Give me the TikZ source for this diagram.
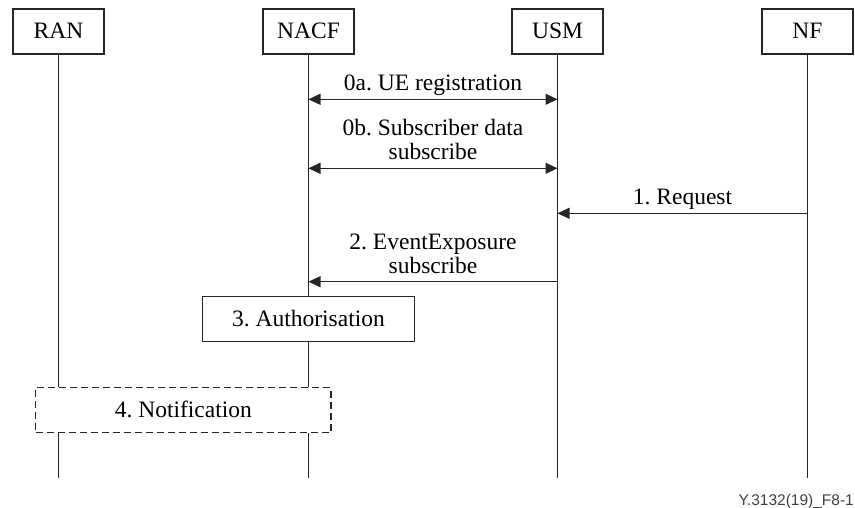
\documentclass[tikz,border=0pt]{standalone}
\usepackage{fontspec}
\setmainfont{Liberation Serif}
\newfontfamily\labelsans{Liberation Sans}
\usetikzlibrary{arrows.meta}
\frenchspacing

\tikzset{
  ink/.style={draw=black!85, line width=1.2pt},
  entity/.style={ink, rectangle, minimum width=91pt, minimum height=45pt,
    inner sep=0pt, text height=15pt, text depth=0pt,
    font=\fontsize{23.5}{24}\selectfont},
  stepbox/.style={ink, rectangle, minimum height=45pt,
    inner sep=0pt, text height=15pt, text depth=0pt,
    font=\fontsize{23.5}{24}\selectfont},
  optbox/.style={stepbox, dash pattern=on 7pt off 4pt},
  lifeline/.style={ink},
  msg/.style={ink, -{Triangle[length=12pt,width=11pt]}},
  bimsg/.style={ink, {Triangle[length=12pt,width=11pt]}-{Triangle[length=12pt,width=11pt]}},
  lbl/.style={above=8pt, inner sep=0pt, text depth=0pt, align=center,
    font=\fontsize{23.5}{24}\selectfont},
}

\begin{document}
\begin{tikzpicture}[x=1pt, y=-1pt]
  \useasboundingbox (0,0) rectangle (855,508);

  % participants
  \node[entity] (ran)  at (58.5,31.5)  {RAN};
  \node[entity] (nacf) at (308.5,31.5) {NACF};
  \node[entity] (usm)  at (557.5,31.5) {USM};
  \node[entity] (nf)   at (807.5,31.5) {NF};

  % local steps
  \node[stepbox, minimum width=212.6pt] (auth)  at (308.5,319.2)  {3. Authorisation};
  \node[optbox,  minimum width=295.3pt] (notif) at (183.35,410)   {4. Notification};

  % message levels and lifeline ends
  \coordinate (y0a)  at (0,99.3);
  \coordinate (y0b)  at (0,168.3);
  \coordinate (y1)   at (0,213.3);
  \coordinate (y2)   at (0,281.7);
  \coordinate (yend) at (0,478.3);

  % lifelines
  \draw[lifeline] (ran.south) -- (ran |- notif.north);
  \draw[lifeline] (ran |- notif.south) -- (ran |- yend);
  \draw[lifeline] (nacf.south) -- (auth.north);
  \draw[lifeline] (auth.south) -- (nacf |- notif.north);
  \draw[lifeline] (nacf |- notif.south) -- (nacf |- yend);
  \draw[lifeline] (usm.south) -- (usm |- yend);
  \draw[lifeline] (nf.south) -- (nf |- yend);

  % messages
  \draw[bimsg] (nacf |- y0a) -- node[lbl] {0a. UE registration} (usm |- y0a);
  \draw[bimsg] (nacf |- y0b) -- node[lbl] {0b. Subscriber data\\subscribe} (usm |- y0b);
  \draw[msg] (nf |- y1) -- node[lbl] {1. Request} (usm |- y1);
  \draw[msg] (usm |- y2) -- node[lbl] {2. EventExposure\\subscribe} (nacf |- y2);

  % figure reference
  \node[anchor=base east, inner sep=0pt, text=black!75,
        font=\labelsans\fontsize{15.5}{16}\selectfont] (figref) at (854,505) {Y.3132(19)\_F8-1};
\end{tikzpicture}
\end{document}
